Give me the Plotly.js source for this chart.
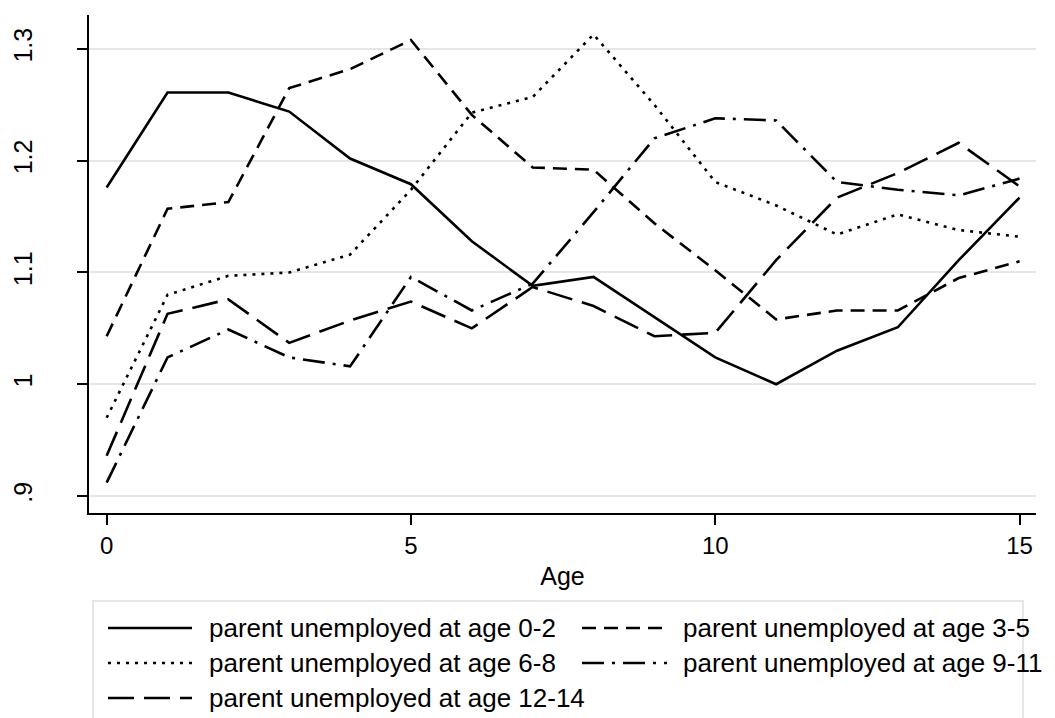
<!DOCTYPE html>
<html>
<head>
<meta charset="utf-8">
<script src="https://cdn.plot.ly/plotly-3.0.1.min.js"></script>
<style>html,body{margin:0;padding:0;background:#fff;}#chart{width:1055px;height:718px;}</style>
</head>
<body>
<div id="chart"></div>
<script>
// ---- data ----
const age = [0,1,2,3,4,5,6,7,8,9,10,11,12,13,14,15];
const seriesNames = [
  "parent unemployed at age 0-2",
  "parent unemployed at age 3-5",
  "parent unemployed at age 6-8",
  "parent unemployed at age 9-11",
  "parent unemployed at age 12-14"
];
const age0_2   = [1.176,1.261,1.261,1.244,1.202,1.179,1.128,1.088,1.096,1.060,1.024,1.000,1.030,1.051,1.111,1.167];
const age3_5   = [1.043,1.157,1.163,1.265,1.282,1.308,1.241,1.194,1.192,1.144,1.102,1.058,1.066,1.066,1.095,1.110];
const age6_8   = [0.970,1.080,1.097,1.100,1.116,1.174,1.243,1.257,1.313,1.250,1.181,1.160,1.134,1.152,1.138,1.132];
const age9_11  = [0.912,1.024,1.049,1.024,1.016,1.096,1.066,1.090,1.154,1.220,1.238,1.236,1.181,1.174,1.169,1.184];
const age12_14 = [0.936,1.063,1.076,1.037,1.057,1.074,1.050,1.087,1.070,1.043,1.046,1.111,1.167,1.189,1.216,1.177];
const yTickVals = [0.9,1.0,1.1,1.2,1.3];
const yTickText = [".9","1","1.1","1.2","1.3"];
const xTickVals = [0,5,10,15];

// ---- styles ----
const dashes = ["solid","14px,8px","3px,6px","22px,8px,3px,8px","26px,10px"];
const allSeries = [age0_2, age3_5, age6_8, age9_11, age12_14];
const FONT = "Liberation Sans, Arial, sans-serif";

const traces = allSeries.map((ys,i)=>({
  x: age, y: ys, type:"scatter", mode:"lines", name: seriesNames[i],
  line:{color:"#000", width:2.6, dash:dashes[i]}, showlegend:false
}));

// plot area in pixels
const L=89, R=1036, T=15, B=513;
const W=1055, H=718;
const px = v => (v-L)/(R-L);
const py = v => (B-v)/(B-T);

// custom legend (key box)
const shapes = [{type:"rect", xref:"paper", yref:"paper", x0:px(93), x1:px(1023), y0:py(601), y1:py(740),
  line:{color:"#e6e6e6", width:2}, fillcolor:"rgba(0,0,0,0)"}];
const annotations = [];
const keyPos = [[108,192,207,628],[582,667,681,628],[108,192,207,663],[582,667,681,663],[108,192,207,698]];
keyPos.forEach((k,i)=>{
  shapes.push({type:"line", xref:"paper", yref:"paper", x0:px(k[0]), x1:px(k[1]), y0:py(k[3]), y1:py(k[3]),
    line:{color:"#000", width:2.6, dash:dashes[i]}});
  annotations.push({xref:"paper", yref:"paper", x:px(k[2]), y:py(k[3]), xanchor:"left", yanchor:"middle",
    showarrow:false, text:seriesNames[i], font:{family:FONT, size:26, color:"#000"}});
});

const layout = {
  width:W, height:H,
  margin:{l:L, r:W-R, t:T, b:H-B, pad:0},
  paper_bgcolor:"#fff", plot_bgcolor:"#fff",
  font:{family:FONT, size:24, color:"#000"},
  showlegend:false,
  xaxis:{range:[-0.29,15.27], tickvals:xTickVals, ticks:"outside", ticklen:10, tickwidth:2, tickcolor:"#000",
    showline:true, linecolor:"#000", linewidth:2, showgrid:false, zeroline:false,
    tickfont:{size:24}, title:{text:"Age", font:{size:25}, standoff:10}},
  yaxis:{range:[0.8848,1.3304], tickvals:yTickVals, ticktext:yTickText, tickangle:-90,
    ticks:"outside", ticklen:10, tickwidth:2, tickcolor:"#000",
    showline:true, linecolor:"#000", linewidth:2, showgrid:true, gridcolor:"#e6e6e6", gridwidth:2, zeroline:false,
    tickfont:{size:25}, ticklabelstandoff:35},
  shapes:shapes, annotations:annotations
};
Plotly.newPlot("chart", traces, layout, {displayModeBar:false, staticPlot:true});
</script>
</body>
</html>
